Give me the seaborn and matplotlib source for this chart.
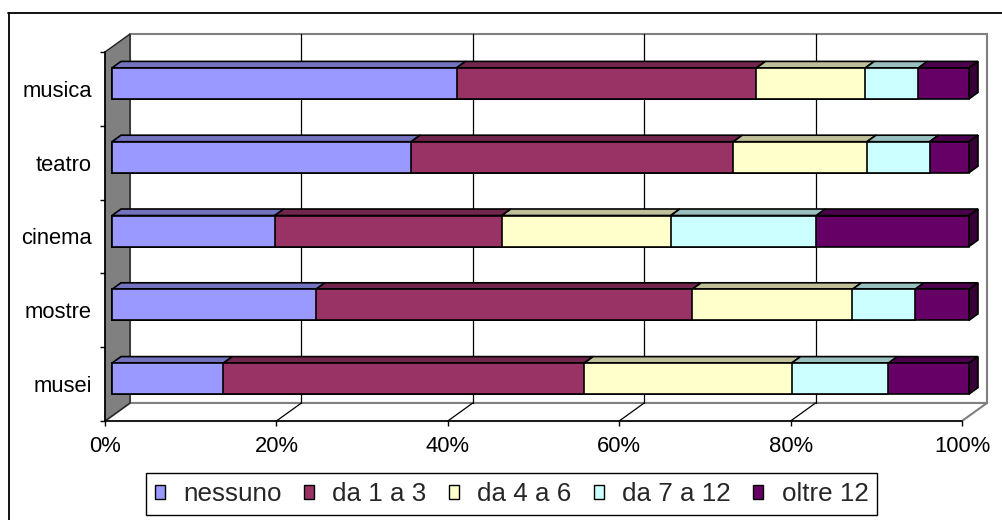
import matplotlib
matplotlib.use("Agg")
import matplotlib.pyplot as plt
import matplotlib.transforms as mtransforms
from matplotlib.patches import Polygon, Rectangle, Patch
from matplotlib.lines import Line2D
from matplotlib.colors import to_rgb
import numpy as np
import pandas as pd
import seaborn as sns

# Share of people (%) by number of visits/attendances per year
categories = ["musica", "teatro", "cinema", "mostre", "musei"]
series = ["nessuno", "da 1 a 3", "da 4 a 6", "da 7 a 12", "oltre 12"]
nessuno = [40.2, 34.9, 19.0, 23.8, 13.0]
da_1_a_3 = [35.0, 37.6, 26.5, 43.9, 42.1]
da_4_a_6 = [12.7, 15.6, 19.7, 18.7, 24.2]
da_7_a_12 = [6.2, 7.3, 17.0, 7.3, 11.3]
oltre_12 = [5.9, 4.6, 17.8, 6.3, 9.4]
x_ticks = [0, 20, 40, 60, 80, 100]
x_tick_labels = ["0%", "20%", "40%", "60%", "80%", "100%"]

front_colors = ["#9999FF", "#993366", "#FFFFCC", "#CCFFFF", "#660066"]
top_colors = [tuple(0.75 * c for c in to_rgb(h)) for h in front_colors]
side_color = tuple(0.55 * c for c in to_rgb(front_colors[-1]))

sns.set_style("white")
plt.rcParams["font.family"] = ["Liberation Sans", "DejaVu Sans"]

df = pd.DataFrame({"categoria": categories})
for name, vals in zip(series, [nessuno, da_1_a_3, da_4_a_6, da_7_a_12, oltre_12]):
    df[name] = vals
cum = df[series].cumsum(axis=1)

W, H = 1002, 520
fig = plt.figure(figsize=(W / 100, H / 100), dpi=100)
ax = fig.add_axes([105 / W, 1 - 421 / H, 857 / W, 369 / H])
ax.patch.set_visible(False)

# pixel -> data unit factors for the oblique 3D look
ux, uy = 100 / 857, 5 / 369
wall_dx, wall_dy = 25 * ux, 18 * uy
bar_dx, bar_dy = 9 * ux, 6.5 * uy
bar_h = 31 * uy

# stacked bars: draw cumulative totals, largest first
n0 = len(ax.patches)
for j in reversed(range(len(series))):
    sns.barplot(x=cum[series[j]].values, y=df["categoria"], orient="h",
                color=front_colors[j], saturation=1, width=bar_h,
                edgecolor="black", linewidth=1.2, errorbar=None,
                zorder=3, ax=ax)
bar_patches = ax.patches[n0:]
shift = mtransforms.offset_copy(ax.transData, fig=fig, x=7, y=5.5, units="dots")
for p in bar_patches:
    p.set_transform(shift)
    p.set_clip_on(False)

ax.set_xlim(0, 100)
ax.set_ylim(4.5, -0.5)
ytop, ybot = -0.5, 4.5

# walls and floor
ax.add_patch(Rectangle((wall_dx, ytop - wall_dy), 100, ybot - ytop,
                       fc="white", ec="#808080", lw=1.5, zorder=0.4, clip_on=False))
ax.add_patch(Polygon([(0, ybot), (100, ybot), (100 + wall_dx, ybot - wall_dy),
                      (wall_dx, ybot - wall_dy)], closed=True,
                     fc="white", ec="#808080", lw=1.5, zorder=0.45, clip_on=False))
ax.add_patch(Polygon([(0, ybot), (0, ytop), (wall_dx, ytop - wall_dy),
                      (wall_dx, ybot - wall_dy)], closed=True,
                     fc="#808080", ec="#202020", lw=1, zorder=0.5, clip_on=False))
for x in x_ticks[1:-1]:
    ax.plot([x + wall_dx, x + wall_dx], [ytop - wall_dy, ybot - wall_dy],
            color="black", lw=0.9, zorder=0.6, clip_on=False)
    ax.plot([x, x + wall_dx], [ybot, ybot - wall_dy],
            color="black", lw=0.9, zorder=0.6, clip_on=False)

# top faces and right end faces of the bars
for i in range(len(categories)):
    yf = i - bar_h / 2
    yb = yf - bar_dy
    for j, name in enumerate(series):
        b = cum.iloc[i, j]
        a = b - df.loc[i, name]
        ax.add_patch(Polygon([(a, yf), (b, yf), (b + bar_dx, yb), (a + bar_dx, yb)],
                             closed=True, fc=top_colors[j], ec="black", lw=1.2,
                             zorder=2.5, transform=shift, clip_on=False))
    end = cum.iloc[i, -1]
    ax.add_patch(Polygon([(end, yf), (end + bar_dx, yb), (end + bar_dx, yb + bar_h),
                          (end, yf + bar_h)], closed=True, fc=side_color, ec="black",
                         lw=1.2, zorder=2.5, transform=shift, clip_on=False))

# axes
for s in ["top", "right"]:
    ax.spines[s].set_visible(False)
for s in ["left", "bottom"]:
    ax.spines[s].set_color("black")
    ax.spines[s].set_linewidth(1.1)
    ax.spines[s].set_zorder(2)
ax.set_xticks(x_ticks)
ax.set_xticklabels(x_tick_labels)
ax.set_yticks(range(len(categories)))
ax.set_yticklabels(categories)
ax.set_yticks(np.arange(-0.5, len(categories), 1), minor=True)
ax.tick_params(axis="x", direction="out", length=3.6, width=1, pad=7.5,
               labelsize=15.8, colors="black", bottom=True)
ax.tick_params(axis="y", which="major", length=0, pad=9.4, labelsize=15.8,
               colors="black", left=True)
ax.tick_params(axis="y", which="minor", length=3.6, width=1, direction="out",
               colors="black", left=True)
ax.set_xlabel("")
ax.set_ylabel("")
ax.grid(False)

# legend
handles = [Patch(facecolor=c, edgecolor="black", lw=1) for c in front_colors]
leg = fig.legend(handles, series, loc="center",
                 bbox_to_anchor=(511.5 / W, 1 - 494 / H), ncol=5, fontsize=18.7,
                 frameon=True, fancybox=False, edgecolor="black",
                 handlelength=0.4, handleheight=0.47, handletextpad=0.7,
                 columnspacing=0.85, borderpad=0.35, framealpha=1)
leg.get_frame().set_linewidth(1)

# chart area border
fig.add_artist(Line2D([8.5 / W, 8.5 / W], [0, 1 - 12.5 / H], transform=fig.transFigure,
                      color="black", lw=1.3))
fig.add_artist(Line2D([8 / W, 1], [1 - 12.5 / H, 1 - 12.5 / H], transform=fig.transFigure,
                      color="black", lw=1.3))

fig.savefig("out.png", dpi=100, facecolor="white")
